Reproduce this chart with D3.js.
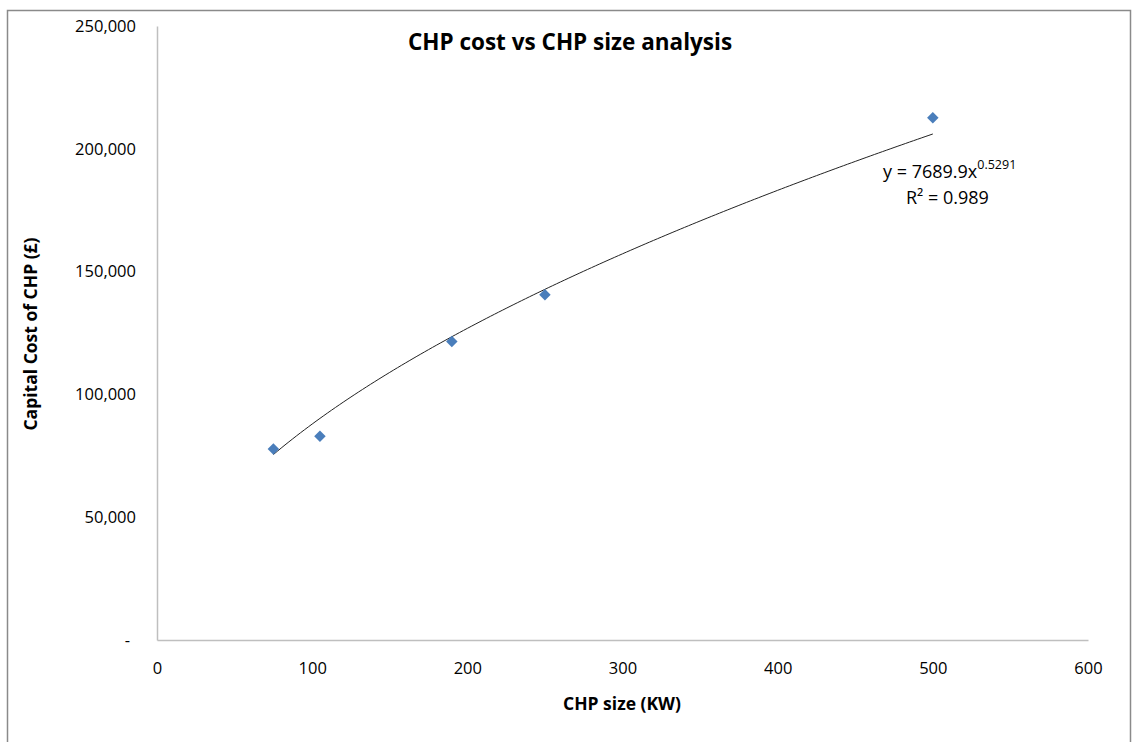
<!DOCTYPE html>
<html><head><meta charset="utf-8">
<script src="https://cdn.jsdelivr.net/npm/d3@7"></script>
<style>
body{margin:0;background:#fff;}
svg{display:block;font-family:"Open Sans",sans-serif;}
</style></head>
<body><svg id="c" width="1133" height="742"></svg>
<script>
const chartTitle = "CHP cost vs CHP size analysis";
const xTitle = "CHP size (KW)";
const yTitle = "Capital Cost of CHP (£)";
const sizes = [75, 105, 190, 250, 500];
const costs = [77800, 83000, 121500, 140600, 212600];
const xTicks = [0, 100, 200, 300, 400, 500, 600];
const yTicks = [0, 50000, 100000, 150000, 200000, 250000];
const trendCoef = 7689.9;
const trendExp = 0.5291;
const trendLabel1 = "y = 7689.9x";
const trendLabel1Sup = "0.5291";
const trendLabel2 = "R² = 0.989";

const FONT = "'Open Sans',sans-serif";
const svg = d3.select("#c");
svg.append("rect").attr("x",7.5).attr("y",10.5).attr("width",1123).attr("height",740)
  .attr("fill","#fff").attr("stroke","#8a8a8a").attr("stroke-width",1.5);

const x = d3.scaleLinear().domain([0,600]).range([157,1088]);
const y = d3.scaleLinear().domain([0,250000]).range([640,26]);

const xAxis = svg.append("g").attr("transform","translate(0,640)")
  .call(d3.axisBottom(x).tickValues(xTicks).tickSize(0).tickPadding(22).tickFormat(d3.format("d")));
const yAxis = svg.append("g").attr("transform","translate(157,0)")
  .call(d3.axisLeft(y).tickValues(yTicks).tickSize(0).tickPadding(21)
    .tickFormat(d => d === 0 ? "-" : d3.format(",")(d)));
[xAxis,yAxis].forEach(g=>{
  g.select(".domain").attr("stroke","#bfbfbf").attr("stroke-width",1.5);
  g.selectAll("text").attr("font-size",16.5).attr("fill","#000").style("font-family",FONT);
});
yAxis.selectAll(".tick text").filter(d=>d===0).attr("dx",-6);

const tr = d3.range(75, 500.01, 2.5).map(v=>[v, trendCoef*Math.pow(v,trendExp)]);
svg.append("path").datum(tr)
  .attr("d", d3.line().x(d=>x(d[0])).y(d=>y(d[1])))
  .attr("fill","none").attr("stroke","#222").attr("stroke-width",1);

svg.append("g").selectAll("path").data(sizes.map((s,i)=>[s,costs[i]])).join("path")
  .attr("transform",d=>`translate(${x(d[0])},${y(d[1])}) rotate(45)`)
  .attr("d", d3.symbol(d3.symbolSquare, 66))
  .attr("fill","#4a7ebb");

svg.append("text").attr("x",570).attr("y",50).attr("text-anchor","middle")
  .attr("font-size",22.5).attr("font-weight","bold").text(chartTitle);
svg.append("text").attr("x",622).attr("y",710).attr("text-anchor","middle")
  .attr("font-size",17.5).attr("font-weight","bold").text(xTitle);
svg.append("text").attr("transform","translate(37,334) rotate(-90)").attr("text-anchor","middle")
  .attr("font-size",17.5).attr("font-weight","bold").text(yTitle);

const t1 = svg.append("text").attr("x",883).attr("y",178).attr("font-size",18);
t1.append("tspan").text(trendLabel1);
t1.append("tspan").attr("dy",-9).attr("font-size",12.5).text(trendLabel1Sup);
svg.append("text").attr("x",906).attr("y",204).attr("font-size",18).text(trendLabel2);
</script></body></html>
